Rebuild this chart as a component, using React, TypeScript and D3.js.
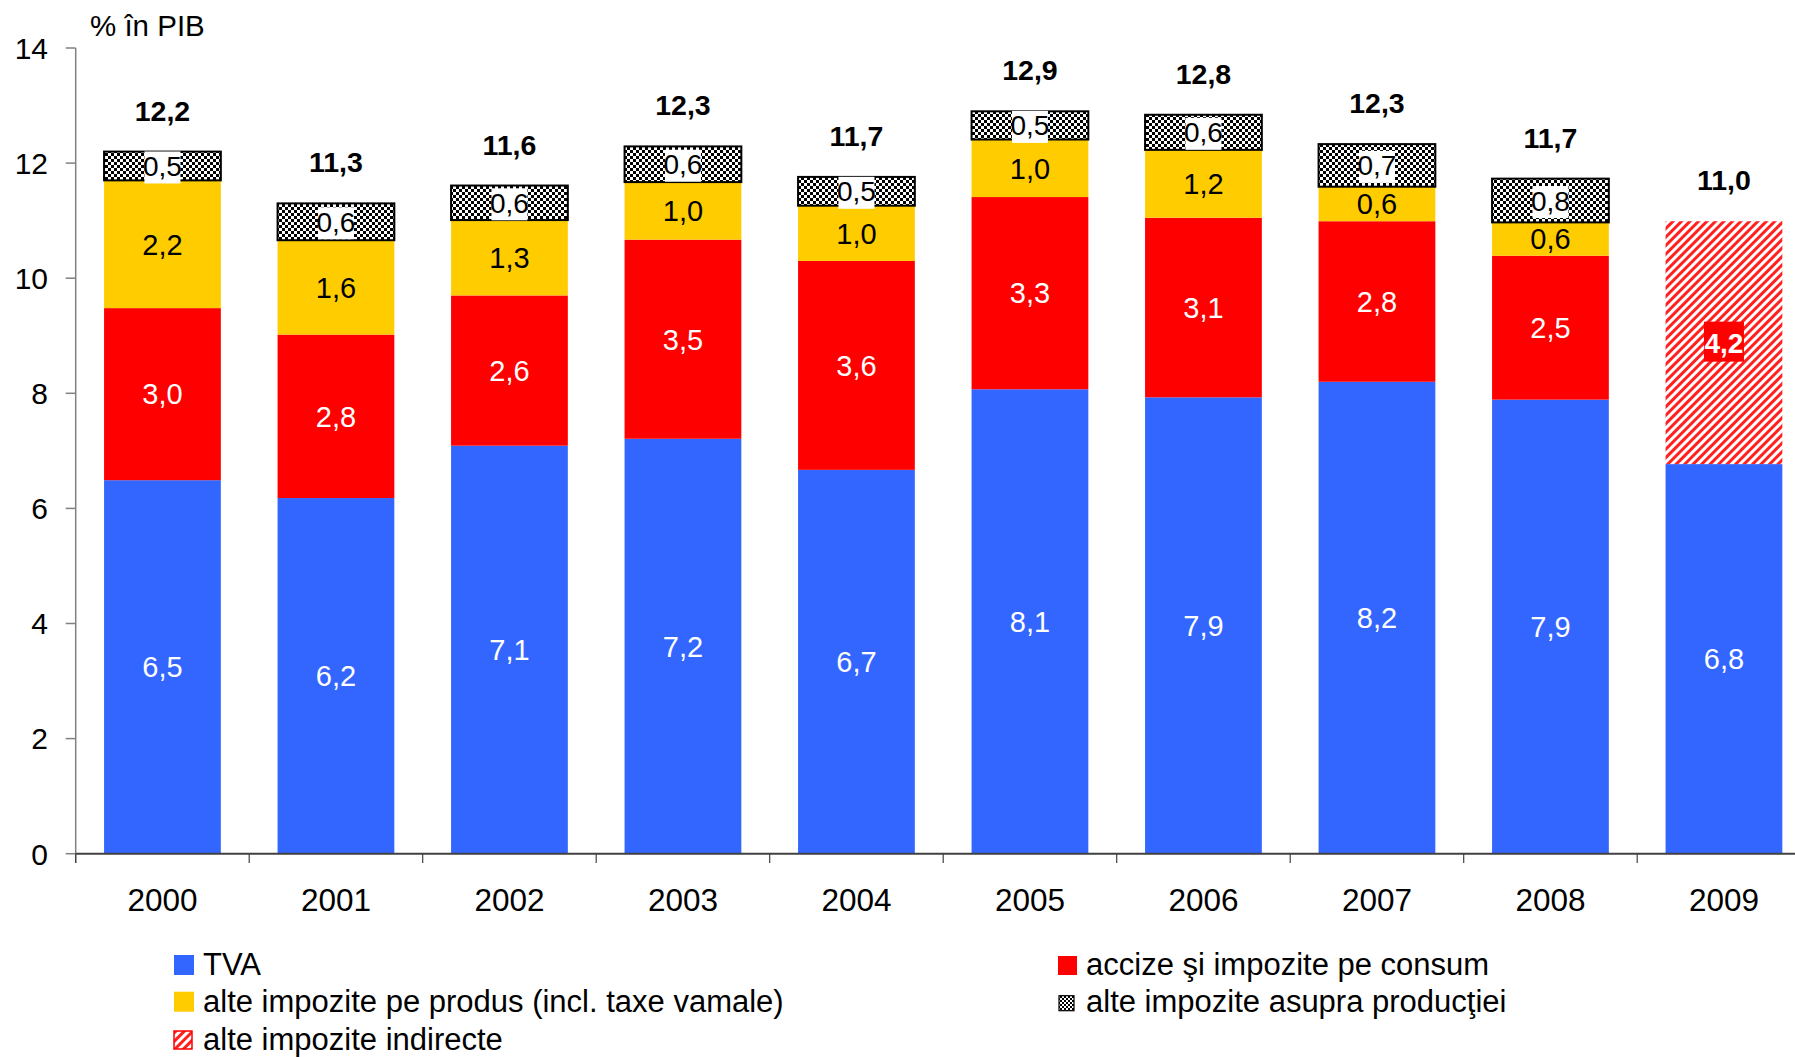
import React from 'react';
import * as d3 from 'd3';

const years = ['2000', '2001', '2002', '2003', '2004', '2005', '2006', '2007', '2008', '2009'];
const tva = [6.49, 6.18, 7.09, 7.21, 6.67, 8.07, 7.93, 8.2, 7.89, 6.77];
const accize = [2.99, 2.84, 2.61, 3.46, 3.63, 3.34, 3.12, 2.79, 2.5, 0];
const alteProdus = [2.22, 1.64, 1.31, 1.0, 0.96, 1.0, 1.18, 0.6, 0.58, 0];
const alteProductie = [0.5, 0.64, 0.6, 0.62, 0.5, 0.49, 0.61, 0.74, 0.76, 0];
const alteIndirecte = [0, 0, 0, 0, 0, 0, 0, 0, 0, 4.22];
const totals = [12.2, 11.3, 11.6, 12.3, 11.7, 12.9, 12.8, 12.3, 11.7, 11.0];
const yTicks = [0, 2, 4, 6, 8, 10, 12, 14];

const seriesKeys = ['tva', 'accize', 'alteProdus', 'alteProductie', 'alteIndirecte'];
const seriesNames: Record<string, string> = {
  tva: 'TVA',
  accize: 'accize şi impozite pe consum',
  alteProdus: 'alte impozite pe produs (incl. taxe vamale)',
  alteProductie: 'alte impozite asupra producţiei',
  alteIndirecte: 'alte impozite indirecte',
};

const W = 1795;
const H = 1057;
const FONT = '"Liberation Sans", Arial, Helvetica, sans-serif';

const fmt = (v: number) => d3.format('.1f')(v).replace('.', ',');

export default function App() {
  const rows = years.map((y, i) => ({
    year: y,
    tva: tva[i],
    accize: accize[i],
    alteProdus: alteProdus[i],
    alteProductie: alteProductie[i],
    alteIndirecte: alteIndirecte[i],
  }));
  const stacked = d3.stack<any>().keys(seriesKeys)(rows);

  const x0 = 75.7;
  const step = 173.5;
  const x = d3
    .scaleBand<string>()
    .domain(years)
    .range([x0, x0 + step * years.length])
    .paddingInner(0.327)
    .paddingOuter(0.1635);
  const y = d3.scaleLinear().domain([0, 14]).range([853.7, 48]);
  const bw = x.bandwidth();

  const fill: Record<string, string> = {
    tva: '#3366FF',
    accize: '#FF0000',
    alteProdus: '#FFCC00',
    alteProductie: 'url(#checker)',
    alteIndirecte: 'url(#hatch)',
  };

  const segFs = 29;
  const segments: React.ReactNode[] = [];
  const labels: React.ReactNode[] = [];
  stacked.forEach((layer) => {
    const key = layer.key;
    layer.forEach((d, i) => {
      const v = d[1] - d[0];
      if (v <= 0) return;
      const xl = x(years[i])!;
      const yt = y(d[1]);
      const yb = y(d[0]);
      segments.push(
        <rect
          key={`${key}-${i}`}
          x={xl}
          y={yt}
          width={bw}
          height={yb - yt}
          fill={fill[key]}
          stroke={key === 'alteProductie' ? '#000' : 'none'}
          strokeWidth={key === 'alteProductie' ? 2 : 0}
        />
      );
      const cx = xl + bw / 2;
      const cy = (yt + yb) / 2;
      const txt = fmt(v);
      if (key === 'alteProductie') {
        labels.push(
          <g key={`l-${key}-${i}`}>
            <rect x={cx - 18} y={cy - 14.5} width={36} height={32} fill="#fff" />
            <text x={cx} y={cy + 10} textAnchor="middle" fontSize={28} fill="#000">
              {txt}
            </text>
          </g>
        );
      } else if (key === 'alteIndirecte') {
        labels.push(
          <g key={`l-${key}-${i}`}>
            <rect x={cx - 20} y={cy - 21} width={40} height={40} fill="#FF0000" />
            <text x={cx} y={cy + 10} textAnchor="middle" fontSize={28} fontWeight="bold" fill="#fff">
              {txt}
            </text>
          </g>
        );
      } else {
        labels.push(
          <text
            key={`l-${key}-${i}`}
            x={cx}
            y={cy + 10.3}
            textAnchor="middle"
            fontSize={segFs}
            fill={key === 'alteProdus' ? '#000' : '#fff'}
          >
            {txt}
          </text>
        );
      }
    });
  });

  const topOf = (i: number) => stacked[stacked.length - 1][i][1];

  const legendLeft = [
    { key: 'tva', y: 975 },
    { key: 'alteProdus', y: 1011.7 },
    { key: 'alteIndirecte', y: 1050 },
  ];
  const legendRight = [
    { key: 'accize', y: 975 },
    { key: 'alteProductie', y: 1011.7 },
  ];

  return (
    <svg
      width={W}
      height={H}
      style={{ position: 'absolute', left: 0, top: 0, background: '#fff' }}
      fontFamily={FONT}
    >
      <defs>
        <pattern id="checker" patternUnits="userSpaceOnUse" width={6} height={6}>
          <rect width={6} height={6} fill="#fff" />
          <rect x={0} y={0} width={3} height={3} fill="#000" />
          <rect x={3} y={3} width={3} height={3} fill="#000" />
        </pattern>
        <pattern id="hatch" patternUnits="userSpaceOnUse" width={6} height={6} patternTransform="rotate(45)">
          <rect width={6} height={6} fill="#fff" />
          <rect x={0} y={0} width={3} height={6} fill="#FF2020" />
        </pattern>
        <pattern id="checkerSmall" patternUnits="userSpaceOnUse" width={4} height={4}>
          <rect width={4} height={4} fill="#fff" />
          <rect x={0} y={0} width={2} height={2} fill="#000" />
          <rect x={2} y={2} width={2} height={2} fill="#000" />
        </pattern>
      </defs>

      {/* bars */}
      {segments}
      {labels}

      {/* totals */}
      {years.map((yr, i) => (
        <text
          key={`t-${yr}`}
          x={x(yr)! + bw / 2}
          y={y(topOf(i)) - 31}
          textAnchor="middle"
          fontSize={28.5}
          fontWeight="bold"
          fill="#000"
        >
          {fmt(totals[i])}
        </text>
      ))}

      {/* y axis */}
      <line x1={x0} x2={x0} y1={y(14)} y2={863} stroke="#808080" strokeWidth={1.5} />
      {yTicks.map((t) => (
        <g key={`yt-${t}`}>
          <line x1={x0 - 10} x2={x0} y1={y(t)} y2={y(t)} stroke="#808080" strokeWidth={1.5} />
          <text x={48} y={y(t) + 10.8} textAnchor="end" fontSize={30} fill="#000">
            {t}
          </text>
        </g>
      ))}
      <text x={90} y={36} fontSize={29.5} fill="#000">
        % în PIB
      </text>

      {/* x axis */}
      <line x1={x0} x2={W} y1={y(0)} y2={y(0)} stroke="#404040" strokeWidth={2} />
      {d3.range(years.length + 1).map((k) => (
        <line
          key={`xt-${k}`}
          x1={x0 + k * step}
          x2={x0 + k * step}
          y1={y(0)}
          y2={863}
          stroke="#404040"
          strokeWidth={1.2}
        />
      ))}
      {years.map((yr) => (
        <text key={`xl-${yr}`} x={x(yr)! + bw / 2} y={911} textAnchor="middle" fontSize={31.5} fill="#000">
          {yr}
        </text>
      ))}

      {/* legend */}
      {legendLeft.map((l) => (
        <g key={`lg-${l.key}`}>
          {l.key === 'alteIndirecte' ? (
            <rect x={174} y={l.y - 19} width={18} height={18} fill="url(#hatch)" stroke="#FF0000" strokeWidth={1.5} />
          ) : (
            <rect x={174} y={l.y - 20} width={20} height={20} fill={fill[l.key]} />
          )}
          <text x={203} y={l.y} fontSize={31} fill="#000">
            {seriesNames[l.key]}
          </text>
        </g>
      ))}
      {legendRight.map((l) => (
        <g key={`lg-${l.key}`}>
          {l.key === 'alteProductie' ? (
            <rect x={1059} y={l.y - 16} width={15} height={15} fill="url(#checkerSmall)" stroke="#000" strokeWidth={1.2} />
          ) : (
            <rect x={1058} y={l.y - 19} width={19} height={19} fill={fill[l.key]} />
          )}
          <text x={1086} y={l.y} fontSize={31} fill="#000">
            {seriesNames[l.key]}
          </text>
        </g>
      ))}
    </svg>
  );
}
